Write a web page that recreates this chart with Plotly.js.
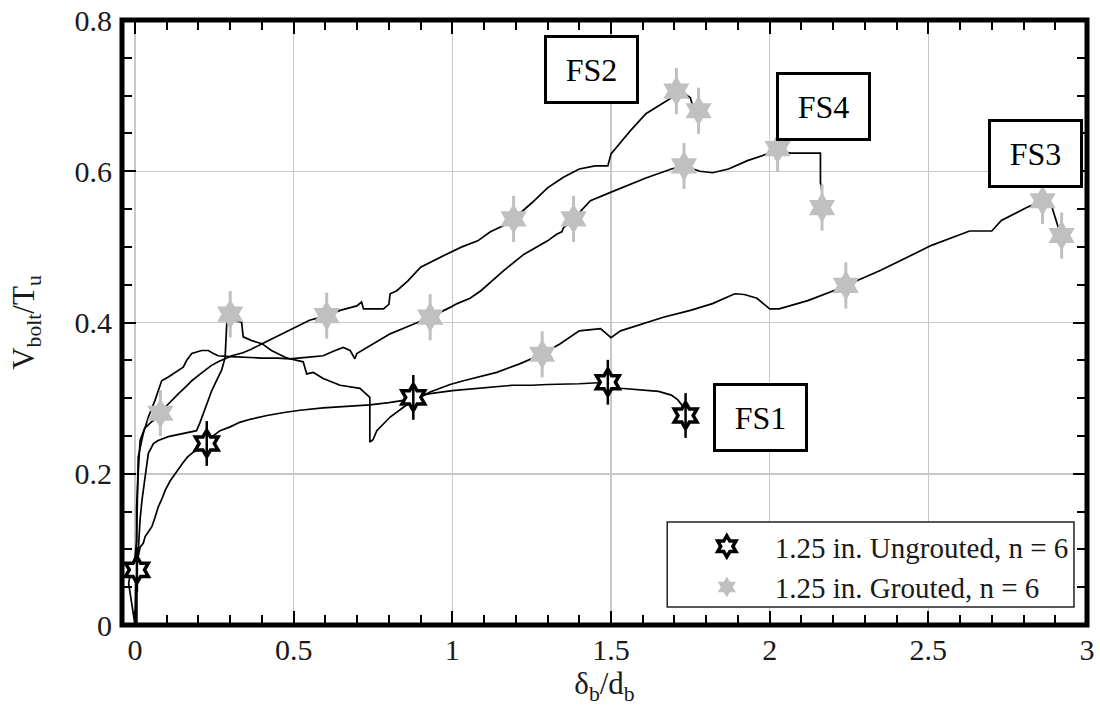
<!DOCTYPE html>
<html>
<head>
<meta charset="utf-8">
<script src="https://cdn.plot.ly/plotly-3.0.1.min.js"></script>
<style>
html,body{margin:0;padding:0;background:#fff;}
#chart{width:1100px;height:721px;}
</style>
</head>
<body>
<div id="chart"></div>
<script>
// ---- curve data (delta_b/d_b , V_bolt/T_u) ----
var fs1_x = [0.006, 0.006, 0.01, 0.016, 0.026, 0.032, 0.045, 0.053, 0.063, 0.073, 0.085, 0.095, 0.11, 0.126, 0.15, 0.165, 0.179, 0.2, 0.226, 0.24, 0.268, 0.3, 0.33, 0.363, 0.416, 0.47, 0.52, 0.593, 0.66, 0.74, 0.8, 0.846, 0.877, 0.93, 1.0, 1.1, 1.19, 1.25, 1.3, 1.4, 1.45, 1.49, 1.53, 1.6, 1.65, 1.69, 1.71, 1.725, 1.735];
var fs1_y = [0, 0.073, 0.09, 0.103, 0.108, 0.117, 0.125, 0.13, 0.142, 0.156, 0.167, 0.178, 0.19, 0.2, 0.214, 0.222, 0.227, 0.233, 0.24, 0.248, 0.257, 0.262, 0.268, 0.272, 0.277, 0.281, 0.284, 0.287, 0.289, 0.291, 0.294, 0.297, 0.301, 0.306, 0.31, 0.314, 0.317, 0.317, 0.318, 0.319, 0.32, 0.321, 0.313, 0.311, 0.309, 0.304, 0.298, 0.29, 0.277];

var fs2_x = [0, -0.01, -0.02, -0.012, 0.0, 0.005, 0.005, 0.01, 0.016, 0.03, 0.05, 0.073, 0.08, 0.095, 0.115, 0.137, 0.16, 0.179, 0.2, 0.22, 0.24, 0.262, 0.285, 0.305, 0.34, 0.368, 0.41, 0.44, 0.473, 0.51, 0.55, 0.604, 0.646, 0.699, 0.714, 0.72, 0.75, 0.783, 0.8, 0.804, 0.825, 0.86, 0.9, 0.94, 0.98, 1.03, 1.08, 1.12, 1.16, 1.193, 1.25, 1.3, 1.35, 1.4, 1.45, 1.49, 1.5, 1.53, 1.56, 1.61, 1.65, 1.69, 1.706, 1.73, 1.75, 1.755, 1.765, 1.776];
var fs2_y = [0, 0.03, 0.055, 0.075, 0.09, 0.11, 0.156, 0.2, 0.244, 0.26, 0.268, 0.275, 0.28, 0.288, 0.297, 0.306, 0.315, 0.323, 0.33, 0.337, 0.343, 0.348, 0.352, 0.356, 0.36, 0.365, 0.374, 0.38, 0.387, 0.394, 0.403, 0.409, 0.416, 0.422, 0.427, 0.418, 0.418, 0.418, 0.424, 0.438, 0.442, 0.455, 0.473, 0.482, 0.49, 0.5, 0.508, 0.52, 0.528, 0.537, 0.558, 0.578, 0.592, 0.603, 0.607, 0.607, 0.623, 0.638, 0.653, 0.676, 0.686, 0.697, 0.706, 0.703, 0.697, 0.69, 0.685, 0.68];

var fs3_x = [0, 0.003, 0.008, 0.012, 0.016, 0.022, 0.026, 0.032, 0.037, 0.042, 0.058, 0.073, 0.105, 0.147, 0.189, 0.194, 0.205, 0.215, 0.228, 0.242, 0.258, 0.273, 0.284, 0.286, 0.289, 0.3, 0.315, 0.336, 0.341, 0.368, 0.4, 0.43, 0.473, 0.488, 0.53, 0.541, 0.562, 0.593, 0.646, 0.709, 0.74, 0.74, 0.75, 0.762, 0.804, 0.846, 0.877, 0.93, 0.993, 1.035, 1.14, 1.21, 1.283, 1.34, 1.4, 1.467, 1.5, 1.53, 1.6, 1.665, 1.75, 1.82, 1.89, 1.92, 1.96, 2.0, 2.03, 2.12, 2.22, 2.24, 2.35, 2.43, 2.51, 2.63, 2.7, 2.73, 2.81, 2.86, 2.89, 2.91, 2.92];
var fs3_y = [0, 0.04, 0.08, 0.11, 0.14, 0.165, 0.178, 0.2, 0.214, 0.227, 0.24, 0.244, 0.249, 0.253, 0.257, 0.257, 0.268, 0.279, 0.295, 0.31, 0.324, 0.337, 0.354, 0.37, 0.398, 0.411, 0.403, 0.4, 0.381, 0.376, 0.372, 0.363, 0.354, 0.352, 0.348, 0.332, 0.334, 0.326, 0.317, 0.313, 0.301, 0.242, 0.245, 0.257, 0.275, 0.288, 0.297, 0.308, 0.318, 0.323, 0.334, 0.345, 0.358, 0.372, 0.389, 0.392, 0.38, 0.389, 0.398, 0.407, 0.416, 0.425, 0.438, 0.437, 0.432, 0.418, 0.418, 0.429, 0.445, 0.449, 0.469, 0.486, 0.502, 0.521, 0.521, 0.535, 0.552, 0.561, 0.552, 0.525, 0.515];

var fs4_x = [0, 0.002, 0.004, 0.006, 0.008, 0.01, 0.026, 0.042, 0.063, 0.073, 0.084, 0.105, 0.126, 0.152, 0.163, 0.179, 0.21, 0.231, 0.247, 0.262, 0.3, 0.336, 0.4, 0.45, 0.488, 0.54, 0.593, 0.625, 0.656, 0.678, 0.693, 0.699, 0.751, 0.804, 0.856, 0.909, 0.93, 0.993, 1.015, 1.056, 1.09, 1.16, 1.225, 1.3, 1.33, 1.345, 1.35, 1.382, 1.435, 1.51, 1.61, 1.69, 1.73, 1.78, 1.82, 1.87, 1.93, 2.0, 2.025, 2.065, 2.16, 2.16, 2.165];
var fs4_y = [0, 0.05, 0.1, 0.15, 0.2, 0.222, 0.253, 0.275, 0.297, 0.31, 0.323, 0.328, 0.334, 0.341, 0.35, 0.359, 0.363, 0.363, 0.359, 0.356, 0.355, 0.354, 0.353, 0.353, 0.352, 0.354, 0.356, 0.362, 0.367, 0.363, 0.352, 0.359, 0.372, 0.385, 0.394, 0.403, 0.407, 0.42, 0.425, 0.432, 0.442, 0.468, 0.49, 0.508, 0.517, 0.52, 0.525, 0.537, 0.561, 0.574, 0.591, 0.603, 0.607, 0.6, 0.598, 0.603, 0.614, 0.624, 0.628, 0.624, 0.624, 0.585, 0.574];

// ---- marker data ----
var ung_x = [0.006, 0.226, 0.877, 1.49, 1.735];
var ung_y = [0.073, 0.24, 0.301, 0.321, 0.277];
var gr_x = [0.08, 0.604, 1.193, 1.706, 1.776, 0.3, 1.283, 2.24, 2.86, 2.92, 0.93, 1.382, 1.73, 2.025, 2.165];
var gr_y = [0.28, 0.409, 0.537, 0.706, 0.68, 0.411, 0.358, 0.449, 0.561, 0.515, 0.407, 0.537, 0.607, 0.63, 0.552];

// ---- labels ----
var ung_name = "1.25 in. Ungrouted, n = 6";
var gr_name = "1.25 in. Grouted, n = 6";
var spec_labels = ["FS2", "FS4", "FS3", "FS1"];
var spec_label_x = [1.437, 2.17, 2.838, 1.971];
var spec_label_y = [0.735, 0.686, 0.624, 0.275];
var x_ticks = [0, 0.5, 1, 1.5, 2, 2.5, 3];
var x_ticktext = ["0", "0.5", "1", "1.5", "2", "2.5", "3"];
var y_ticks = [0, 0.2, 0.4, 0.6, 0.8];
var y_ticktext = ["0", "0.2", "0.4", "0.6", "0.8"];

var FONT = '"Liberation Serif", "Times New Roman", serif';
var GRAY = "#c0c0c0";
var TXT = "#1a1a1a";

function curve(x, y) {
  return {x: x, y: y, type: "scatter", mode: "lines",
    line: {color: "#000", width: 1.7}, showlegend: false, hoverinfo: "skip"};
}

var traces = [
  curve(fs1_x, fs1_y), curve(fs2_x, fs2_y), curve(fs3_x, fs3_y), curve(fs4_x, fs4_y),
  {x: ung_x, y: ung_y, type: "scatter", mode: "markers", name: ung_name, legendrank: 1,
   marker: {symbol: "hexagram", size: 20, color: "#fff", line: {color: "#000", width: 3.5}}},
  {x: ung_x, y: ung_y, type: "scatter", mode: "markers", showlegend: false,
   marker: {symbol: "line-ns-open", size: 32, color: "#000", line: {color: "#000", width: 2.5}}},
  {x: gr_x, y: gr_y, type: "scatter", mode: "markers", name: gr_name, legendrank: 2,
   marker: {symbol: "hexagram", size: 23, color: GRAY, line: {width: 0}}},
  {x: gr_x, y: gr_y, type: "scatter", mode: "markers", showlegend: false,
   marker: {symbol: "line-ns-open", size: 33, color: GRAY, line: {color: GRAY, width: 3}}}
];

var annotations = spec_labels.map(function (t, i) {
  return {x: spec_label_x[i], y: spec_label_y[i], xref: "x", yref: "y", text: t,
    showarrow: false, font: {family: FONT, size: 32, color: "#000"},
    bgcolor: "#fff", bordercolor: "#000", borderwidth: 3, borderpad: 2,
    width: 85, height: 59, align: "center", valign: "middle"};
});

var layout = {
  width: 1100, height: 721,
  margin: {l: 122, r: 13, t: 20, b: 96},
  paper_bgcolor: "#fff", plot_bgcolor: "#fff",
  font: {family: FONT, color: TXT},
  xaxis: {
    range: [-0.041, 3.0], tickvals: x_ticks, ticktext: x_ticktext,
    ticks: "inside", ticklen: 14, tickwidth: 2, tickcolor: "#000",
    minor: {dtick: 0.1, tick0: 0, ticks: "inside", ticklen: 10, tickwidth: 2, tickcolor: "#000", showgrid: false},
    showgrid: true, gridcolor: "#c8c8c8", gridwidth: 1.5,
    zeroline: false, showline: false, mirror: "ticks",
    tickfont: {family: FONT, size: 30, color: TXT}, ticklabelstandoff: 4,
    title: {text: "δ<sub>b</sub>/d<sub>b</sub>", font: {family: FONT, size: 31, color: TXT}, standoff: 2}
  },
  yaxis: {
    range: [0, 0.8], tickvals: y_ticks, ticktext: y_ticktext,
    ticks: "inside", ticklen: 14, tickwidth: 2, tickcolor: "#000",
    minor: {dtick: 0.05, tick0: 0, ticks: "inside", ticklen: 10, tickwidth: 2, tickcolor: "#000", showgrid: false},
    showgrid: true, gridcolor: "#c8c8c8", gridwidth: 1.5,
    zeroline: false, showline: false, mirror: "ticks",
    tickfont: {family: FONT, size: 30, color: TXT}, ticklabelstandoff: 9,
    title: {text: "V<sub>bolt</sub>/T<sub>u</sub>", font: {family: FONT, size: 31, color: TXT}, standoff: 30}
  },
  shapes: [
    {type: "rect", xref: "paper", yref: "paper", x0: 0.565, x1: 0.9865, y0: 0.0298, y1: 0.1702,
     fillcolor: "#fff", line: {color: "#222", width: 1.5}, layer: "above"},
    {type: "rect", xref: "paper", yref: "paper", x0: 0, x1: 1, y0: 0, y1: 1,
     line: {color: "#000", width: 5}, layer: "above"}
  ],
  legend: {
    x: 0.577, y: 0.172, xanchor: "left", yanchor: "top",
    bgcolor: "rgba(0,0,0,0)", borderwidth: 0, itemwidth: 86,
    font: {family: FONT, size: 29, color: TXT}
  },
  annotations: annotations
};

Plotly.newPlot("chart", traces, layout, {displayModeBar: false, staticPlot: true});
</script>
</body>
</html>
